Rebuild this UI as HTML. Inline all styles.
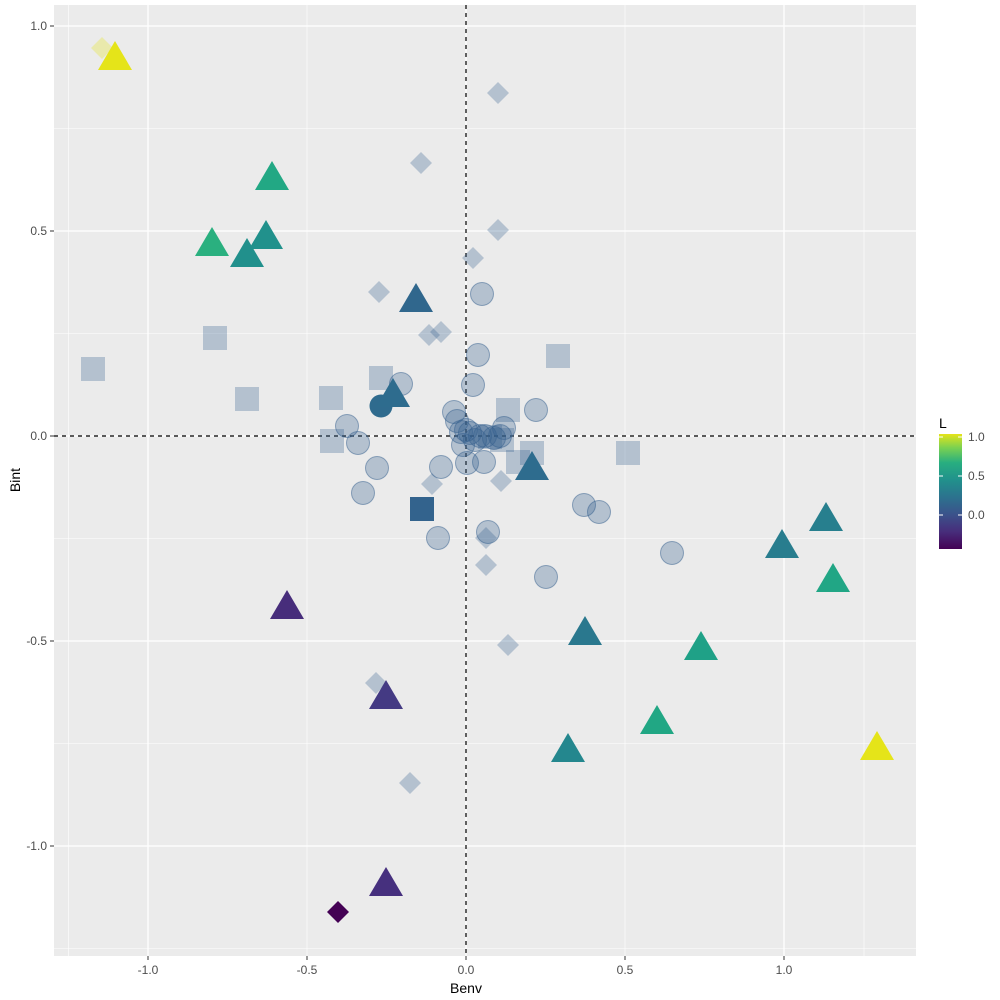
<!DOCTYPE html>
<html><head><style>body{margin:0;background:#fff}svg{display:block;font-family:"Liberation Sans",sans-serif}</style></head><body>
<svg width="1000" height="1000" viewBox="0 0 1000 1000">
<defs><linearGradient id="vg" x1="0" y1="1" x2="0" y2="0">
<stop offset="0" stop-color="#440154"/><stop offset="0.15" stop-color="#472D7B"/><stop offset="0.3" stop-color="#3B528B"/><stop offset="0.45" stop-color="#2C728E"/><stop offset="0.6" stop-color="#21918C"/><stop offset="0.75" stop-color="#28AE80"/><stop offset="0.88" stop-color="#7AD151"/><stop offset="1" stop-color="#E5E419"/></linearGradient></defs>
<rect x="54" y="5" width="862" height="951" fill="#EBEBEB"/>
<g stroke="#fff" stroke-width="0.6">
<line x1="68.5" y1="5" x2="68.5" y2="956"/><line x1="307" y1="5" x2="307" y2="956"/><line x1="625" y1="5" x2="625" y2="956"/><line x1="864" y1="5" x2="864" y2="956"/>
<line x1="54" y1="128.5" x2="916" y2="128.5"/><line x1="54" y1="333.5" x2="916" y2="333.5"/><line x1="54" y1="538.5" x2="916" y2="538.5"/><line x1="54" y1="743.5" x2="916" y2="743.5"/><line x1="54" y1="948.5" x2="916" y2="948.5"/>
</g>
<g stroke="#fff" stroke-width="1.3">
<line x1="148" y1="5" x2="148" y2="956"/><line x1="466" y1="5" x2="466" y2="956"/><line x1="784" y1="5" x2="784" y2="956"/>
<line x1="54" y1="26" x2="916" y2="26"/><line x1="54" y1="231" x2="916" y2="231"/><line x1="54" y1="436" x2="916" y2="436"/><line x1="54" y1="641" x2="916" y2="641"/><line x1="54" y1="846" x2="916" y2="846"/>
</g>
<g stroke="#000" stroke-dasharray="4,4" stroke-width="1.2">
<line x1="466" y1="5" x2="466" y2="956"/><line x1="54" y1="436" x2="916" y2="436"/></g>
<g fill="#35608D" fill-opacity="0.3">
<rect x="81" y="357" width="24" height="24"/><rect x="203" y="326" width="24" height="24"/><rect x="235" y="387" width="24" height="24"/><rect x="319" y="386" width="24" height="24"/><rect x="369" y="366" width="24" height="24"/><rect x="320" y="429" width="24" height="24"/><rect x="546" y="344" width="24" height="24"/><rect x="616" y="441" width="24" height="24"/><rect x="496" y="398" width="24" height="24"/><rect x="520" y="441" width="24" height="24"/><rect x="506" y="450" width="24" height="24"/><rect x="478" y="425" width="24" height="24"/><rect x="490" y="428" width="24" height="24"/>
</g>
<g fill="#35608D" fill-opacity="0.3" stroke="#35608D" stroke-opacity="0.5" stroke-width="1">
<circle cx="482" cy="294" r="11.5"/><circle cx="478" cy="355" r="11.5"/><circle cx="473" cy="385" r="11.5"/><circle cx="401" cy="384" r="11.5"/><circle cx="347" cy="426" r="11.5"/><circle cx="358" cy="443" r="11.5"/><circle cx="377" cy="468" r="11.5"/><circle cx="363" cy="493" r="11.5"/><circle cx="441" cy="467" r="11.5"/><circle cx="438" cy="538" r="11.5"/><circle cx="454" cy="412" r="11.5"/><circle cx="457" cy="421" r="11.5"/><circle cx="461" cy="432" r="11.5"/><circle cx="470" cy="433" r="11.5"/><circle cx="463" cy="445" r="11.5"/><circle cx="467" cy="463" r="11.5"/><circle cx="484" cy="462" r="11.5"/><circle cx="488" cy="532" r="11.5"/><circle cx="536" cy="410" r="11.5"/><circle cx="504" cy="428" r="11.5"/><circle cx="485" cy="436" r="11.5"/><circle cx="500" cy="436" r="11.5"/><circle cx="546" cy="577" r="11.5"/><circle cx="584" cy="505" r="11.5"/><circle cx="599" cy="512" r="11.5"/><circle cx="672" cy="553" r="11.5"/><circle cx="480" cy="436" r="11.5"/><circle cx="494" cy="438" r="11.5"/><circle cx="466" cy="430" r="11.5"/><circle cx="475" cy="440" r="11.5"/>
</g>
<g fill="#35608D" fill-opacity="0.3">
<path d="M498 82l11 11-11 11-11-11z"/><path d="M421 152l11 11-11 11-11-11z"/><path d="M498 219l11 11-11 11-11-11z"/><path d="M473 247l11 11-11 11-11-11z"/><path d="M379 281l11 11-11 11-11-11z"/><path d="M429 324l11 11-11 11-11-11z"/><path d="M441 321l11 11-11 11-11-11z"/><path d="M432 473l11 11-11 11-11-11z"/><path d="M501 470l11 11-11 11-11-11z"/><path d="M486 527l11 11-11 11-11-11z"/><path d="M486 554l11 11-11 11-11-11z"/><path d="M508 634l11 11-11 11-11-11z"/><path d="M376 672l11 11-11 11-11-11z"/><path d="M410 772l11 11-11 11-11-11z"/>
</g>
<path d="M102 37l11 11-11 11-11-11z" fill="#E5E419" fill-opacity="0.3"/>
<path d="M338 901l11 11-11 11-11-11z" fill="#440154"/>
<rect x="410" y="497" width="24" height="24" fill="#33638D"/>
<circle cx="381" cy="406" r="11.5" fill="#2F6B8E"/>
<g>
<path d="M115 41l17 29h-34z" fill="#E5E419"/>
<path d="M272 161l17 29h-34z" fill="#22A884"/>
<path d="M212 227l17 29h-34z" fill="#2AB07F"/>
<path d="M266 220l17 29h-34z" fill="#21918C"/>
<path d="M247 238l17 29h-34z" fill="#21908C"/>
<path d="M416 283l17 29h-34z" fill="#30678D"/>
<path d="M393 378l17 29h-34z" fill="#2E6C8E"/>
<path d="M532 451l17 29h-34z" fill="#2E6C8E"/>
<path d="M287 590l17 29h-34z" fill="#472D7B"/>
<path d="M386 680l17 29h-34z" fill="#443A83"/>
<path d="M386 867l17 29h-34z" fill="#46307E"/>
<path d="M826 502l17 29h-34z" fill="#277F8E"/>
<path d="M782 529l17 29h-34z" fill="#287D8E"/>
<path d="M833 563l17 29h-34z" fill="#21A685"/>
<path d="M585 616l17 29h-34z" fill="#2A788E"/>
<path d="M701 631l17 29h-34z" fill="#1FA187"/>
<path d="M568 733l17 29h-34z" fill="#24878E"/>
<path d="M657 705l17 29h-34z" fill="#21A784"/>
<path d="M877 731l17 29h-34z" fill="#E5E419"/>
</g>
<g stroke="#333" stroke-width="1">
<line x1="148" y1="956" x2="148" y2="960"/><line x1="307" y1="956" x2="307" y2="960"/><line x1="466" y1="956" x2="466" y2="960"/><line x1="625" y1="956" x2="625" y2="960"/><line x1="784" y1="956" x2="784" y2="960"/>
<line x1="50" y1="26" x2="54" y2="26"/><line x1="50" y1="231" x2="54" y2="231"/><line x1="50" y1="436" x2="54" y2="436"/><line x1="50" y1="641" x2="54" y2="641"/><line x1="50" y1="846" x2="54" y2="846"/>
</g>
<g font-size="12" fill="#4D4D4D" text-anchor="middle">
<text x="148" y="974">-1.0</text><text x="307" y="974">-0.5</text><text x="466" y="974">0.0</text><text x="625" y="974">0.5</text><text x="784" y="974">1.0</text>
</g>
<g font-size="12" fill="#4D4D4D" text-anchor="end">
<text x="47" y="30">1.0</text><text x="47" y="235">0.5</text><text x="47" y="440">0.0</text><text x="47" y="645">-0.5</text><text x="47" y="850">-1.0</text>
</g>
<text x="466" y="993" font-size="14" text-anchor="middle" fill="#000">Benv</text>
<text transform="translate(20,480) rotate(-90)" font-size="14" text-anchor="middle" fill="#000">Bint</text>
<text x="939" y="428" font-size="14" fill="#000">L</text>
<rect x="939" y="434" width="23" height="115" fill="url(#vg)"/>
<g stroke="#fff" stroke-width="1"><line x1="939" y1="437" x2="943" y2="437"/><line x1="958" y1="437" x2="962" y2="437"/><line x1="939" y1="476" x2="943" y2="476"/><line x1="958" y1="476" x2="962" y2="476"/><line x1="939" y1="515" x2="943" y2="515"/><line x1="958" y1="515" x2="962" y2="515"/></g>
<g font-size="12" fill="#4D4D4D"><text x="968" y="441">1.0</text><text x="968" y="480">0.5</text><text x="968" y="519">0.0</text></g>
</svg>
</body></html>
